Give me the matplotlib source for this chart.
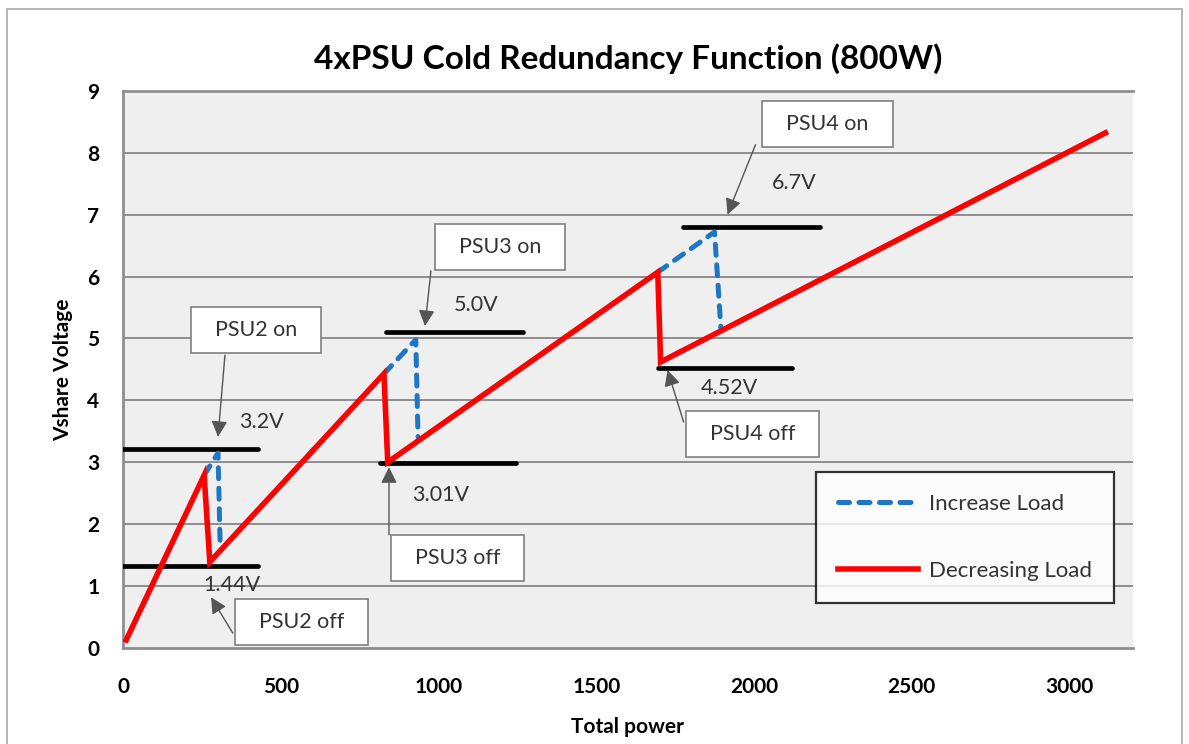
import matplotlib.pyplot as plt
from matplotlib.patches import Rectangle

plt.rcParams['font.family'] = ['Lato', 'DejaVu Sans']

# decreasing load (red, solid)
red_x = [10, 257, 275, 827, 839, 1695, 1704, 3114]
red_y = [0.13, 2.79, 1.39, 4.43, 3.0, 6.07, 4.62, 8.32]

# increase load (blue, dashed) - one segment per PSU switch-on
blue_x = [[257, 301, 308], [827, 928, 935], [1695, 1875, 1895]]
blue_y = [[2.79, 3.15, 1.62], [4.43, 4.98, 3.41], [6.07, 6.72, 5.17]]

# threshold levels (black bars)
lvl_y = [3.22, 1.32, 5.1, 2.99, 6.8, 4.52]
lvl_x0 = [0, 0, 833, 814, 1774, 1695]
lvl_x1 = [428, 428, 1267, 1245, 2208, 2122]

# voltage labels
v_text = ['3.2V', '1.44V', '5.0V', '3.01V', '6.7V', '4.52V']
v_x = [440, 345, 1118, 1007, 2129, 1923]
v_y = [3.65, 1.02, 5.54, 2.47, 7.51, 4.2]

# callout boxes + arrows
box_text = ['PSU2 on', 'PSU2 off', 'PSU3 on', 'PSU3 off', 'PSU4 on', 'PSU4 off']
box_x = [421, 567, 1194, 1061, 2233, 1996]
box_y = [5.14, 0.42, 6.48, 1.45, 8.47, 3.46]
arr_from = [(323, 4.73), (348, 0.24), (976, 6.09), (843, 1.83), (2005, 8.13), (1777, 3.65)]
arr_to = [(301, 3.41), (279, 0.82), (957, 5.2), (843, 2.92), (1916, 7.0), (1726, 4.49)]

fig = plt.figure(figsize=(11.89, 7.44), dpi=100)
ax = fig.add_axes([0.1035, 0.129, 0.849, 0.749])
ax.set_facecolor('#efefef')

# outer frame
fig.patches.append(Rectangle((0.006, -0.02), 0.988, 1.008, transform=fig.transFigure,
                             fill=False, edgecolor='#a8a8a8', lw=1.2))

for y in range(1, 9):
    ax.axhline(y, color='#8e8e8e', lw=1.4, zorder=1)

for x0, x1, y in zip(lvl_x0, lvl_x1, lvl_y):
    ax.plot([x0, x1], [y, y], color='black', lw=3.4, solid_capstyle='round', zorder=3)

ax.plot(red_x, red_y, color='#ff0000', lw=4, zorder=5, label='Decreasing Load',
        solid_joinstyle='miter')
for i in range(3):
    ax.plot(blue_x[i], blue_y[i], color='#1f77c4', lw=3.6, ls=(0, (2.2, 1.9)), zorder=4,
            dash_capstyle='round', label='Increase Load' if i == 0 else None)

for t, x, y in zip(v_text, v_x, v_y):
    ax.text(x, y, t, fontsize=15.5, ha='center', va='center', color='#333333', zorder=6)

for t, x, y in zip(box_text, box_x, box_y):
    ax.text(x, y, '  ' + t + '  ', fontsize=15.5, ha='center', va='center', color='#333333', zorder=7,
            bbox=dict(boxstyle='square,pad=0.6', fc='white', ec='#7f7f7f', lw=1.2))

for a, b in zip(arr_from, arr_to):
    ax.annotate('', xy=b, xytext=a, zorder=8,
                arrowprops=dict(arrowstyle='-|>', color='#555555', lw=1, shrinkA=0, shrinkB=0,
                                mutation_scale=24))

ax.set_xlim(0, 3200)
ax.set_ylim(0, 9)
ax.set_xticks([0, 500, 1000, 1500, 2000, 2500, 3000])
ax.set_yticks(range(10))
ax.tick_params(length=0, labelsize=15, pad=21, axis='x')
ax.tick_params(length=0, labelsize=15, pad=17, axis='y')
for lab in ax.get_xticklabels() + ax.get_yticklabels():
    lab.set_fontweight('bold')

ax.spines['right'].set_visible(False)
for s in ['left', 'bottom', 'top']:
    ax.spines[s].set_color('#8e8e8e')
    ax.spines[s].set_linewidth(2)

ax.set_title('4xPSU Cold Redundancy Function (800W)', fontsize=24, fontweight='bold', pad=16)
ax.set_xlabel('Total power', fontsize=15, fontweight='bold', labelpad=14)
ax.set_ylabel('Vshare Voltage', fontsize=15, fontweight='bold', labelpad=10)

h, l = ax.get_legend_handles_labels()
leg = ax.legend(h[::-1], l[::-1], loc='lower right', bbox_to_anchor=(0.982, 0.081),
                borderaxespad=0, fontsize=16, frameon=True, fancybox=False, edgecolor='black',
                handlelength=3.6, labelspacing=2.1, borderpad=1.0, handletextpad=0.5)
leg.get_frame().set_linewidth(1.6)
for t in leg.get_texts():
    t.set_color('#333333')

plt.savefig('out.png', dpi=100)
